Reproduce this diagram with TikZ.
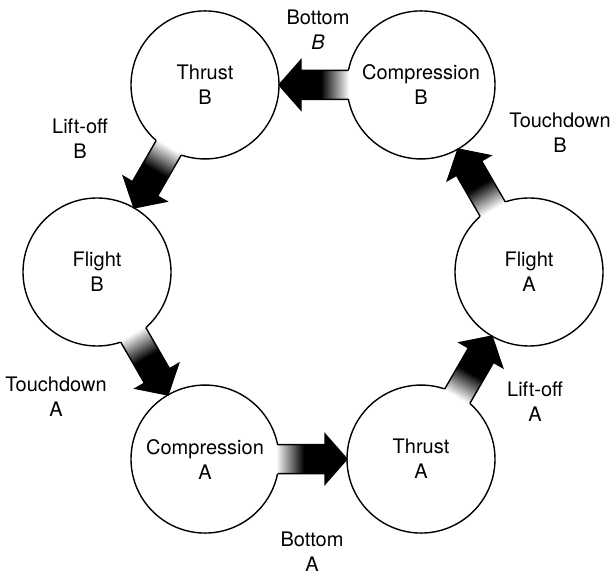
\documentclass[tikz,border=0pt]{standalone}
\usepackage{fontspec}
\setmainfont{TeX Gyre Heros}
\usetikzlibrary{calc}
\tikzset{
  phase/.style={circle, draw, line width=1.4pt, minimum size=148pt, inner sep=0pt, align=center},
  tag/.style={align=center, inner sep=0pt},
  rim/.style={line width=1.4pt, line join=miter}
}
\begin{document}
\begin{tikzpicture}[x=1pt, y=1pt, font=\fontsize{20}{25}\selectfont]
  \useasboundingbox (0,0) rectangle (615,575);
  \coordinate (hub) at (313,303);

  % the six phases round the cycle
  \path (hub) ++(0:216)   node[phase] (flightA) {Flight\\A};
  \path (hub) ++(60:216)  node[phase] (compB)   {Compression\\B};
  \path (hub) ++(120:216) node[phase] (thrustB) {Thrust\\B};
  \path (hub) ++(180:216) node[phase] (flightB) {Flight\\B};
  \path (hub) ++(240:216) node[phase] (compA)   {Compression\\A};
  \path (hub) ++(300:216) node[phase] (thrustA) {Thrust\\A};

  % shaded block arrows, white at the tail, black at the head
  \foreach \src/\dst/\dir in {flightA/compB/120, compB/thrustB/180, thrustB/flightB/240,
                              flightB/compA/300, compA/thrustA/0, thrustA/flightA/60}{
    \begin{scope}[shift={(\src.center)}, rotate=\dir]
      \fill (99,-14.5) -- (120,-14.5) -- (120,-25) -- (142,0) -- (120,25) -- (120,14.5) -- (99,14.5) -- cycle;
      \foreach \k in {0,...,28}{
        \pgfmathsetmacro\tone{100*\k/28}
        \fill[black!\tone] (71+\k,-14.5) rectangle (72.6+\k,14.5);
      }
      \draw[rim] (72.5,14.5) -- (120,14.5) -- (120,25) -- (142,0) -- (120,-25) -- (120,-14.5) -- (72.5,-14.5);
    \end{scope}
  }

  % events
  \node[tag] (bottomB)    at (318,545) {Bottom\\\textit{B}};
  \node[tag] (liftoffB)   at (80,436)  {Lift-off\\B};
  \node[tag] (touchdownB) at (560,442) {Touchdown\\B};
  \node[tag] (touchdownA) at (56,178)  {Touchdown\\A};
  \node[tag] (liftoffA)   at (535,173) {Lift-off\\A};
  \node[tag] (bottomA)    at (312,23)  {Bottom\\A};
\end{tikzpicture}
\end{document}
